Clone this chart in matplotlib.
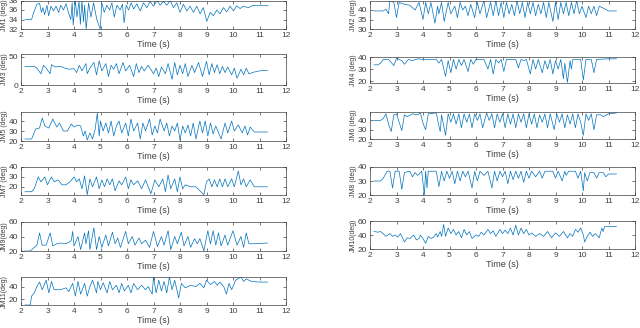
import numpy as np
import matplotlib
matplotlib.use('Agg')
import matplotlib.pyplot as plt

plt.rcParams['font.family'] = ['Liberation Sans', 'DejaVu Sans']

# joint angle traces (time s, angle deg) at peaks/troughs
t1 = [2.15, 2.4, 2.48, 2.6, 2.7, 2.77, 2.83, 2.89, 2.98, 3.04, 3.13, 3.23, 3.32, 3.42, 3.5, 3.6, 3.7, 3.8, 3.88,
      3.93, 3.97, 4.05, 4.11, 4.19, 4.24, 4.3, 4.36, 4.4, 4.46, 4.55, 4.64, 4.74, 4.86, 4.99, 5.05, 5.14, 5.24, 5.34,
      5.43, 5.52, 5.62, 5.74, 5.83, 5.89, 5.97, 6.06, 6.16, 6.25, 6.37, 6.5, 6.62, 6.75, 6.87, 7.0, 7.13, 7.25, 7.38,
      7.5, 7.63, 7.75, 7.88, 8.0, 8.13, 8.26, 8.38, 8.51, 8.63, 8.76, 8.88, 9.01, 9.14, 9.26, 9.39, 9.51, 9.64, 9.76,
      9.89, 10.02, 10.14, 10.27, 10.39, 10.58, 10.77, 11.02, 11.33]
v1 = [34.0, 34.0, 35.5, 37.2, 37.4, 35.5, 36.5, 35.0, 37.0, 34.8, 36.8, 35.8, 36.8, 35.5, 37.0, 36.0, 37.3, 35.3, 34.0,
      37.5, 32.8, 38.0, 34.5, 37.8, 33.0, 38.0, 33.5, 37.0, 32.0, 37.5, 34.5, 37.5, 34.0, 32.0, 37.5, 35.5, 37.0, 36.0,
      37.5, 34.5, 37.0, 36.0, 37.2, 33.3, 37.0, 36.0, 37.5, 36.2, 37.3, 35.8, 37.5, 36.5, 37.8, 36.8, 38.0, 37.0, 37.8,
      37.0, 38.0, 36.5, 37.5, 35.5, 37.2, 35.8, 36.8, 35.5, 36.8, 35.2, 36.5, 33.6, 35.5, 34.8, 36.0, 35.2, 36.5, 35.6,
      36.8, 35.8, 36.9, 36.3, 36.8, 36.5, 37.0, 36.9, 36.9]

t2 = [2.15, 2.5, 2.6, 2.7, 2.75, 2.9, 3.0, 3.1, 3.3, 3.5, 3.7, 3.85, 4.0, 4.1, 4.2, 4.3, 4.45, 4.55, 4.6, 4.7, 4.8,
      4.95, 5.05, 5.2, 5.3, 5.4, 5.5, 5.6, 5.7, 5.8, 5.95, 6.05, 6.15, 6.3, 6.4, 6.55, 6.65, 6.75, 6.85, 6.95, 7.05,
      7.15, 7.25, 7.35, 7.45, 7.55, 7.65, 7.75, 7.85, 7.95, 8.05, 8.15, 8.25, 8.35, 8.45, 8.55, 8.65, 8.75, 8.9, 9.0,
      9.1, 9.2, 9.3, 9.4, 9.5, 9.6, 9.7, 9.8, 9.9, 10.0, 10.15, 10.25, 10.35, 10.45, 10.55, 10.65, 10.8, 11.0, 11.3]
v2 = [39.5, 39.5, 40.5, 38.0, 45.0, 44.0, 36.0, 44.0, 43.0, 42.5, 40.0, 44.0, 35.0, 44.0, 38.0, 44.0, 33.0, 42.0, 38.0,
      44.0, 34.0, 44.0, 38.0, 42.0, 36.0, 44.0, 40.0, 42.0, 37.0, 43.0, 36.0, 44.0, 38.0, 45.0, 36.0, 44.0, 37.0, 45.0,
      37.0, 44.0, 36.0, 44.0, 38.0, 43.0, 37.0, 45.0, 38.0, 44.0, 36.0, 44.0, 38.0, 44.0, 37.0, 43.0, 38.0, 44.0, 36.0,
      44.0, 34.0, 44.0, 35.0, 44.0, 38.0, 44.0, 37.0, 44.0, 38.0, 45.0, 38.0, 42.0, 36.0, 42.0, 38.0, 42.0, 37.0, 42.0,
      41.0, 39.5, 39.5]

t3 = [2.15, 2.5, 2.6, 2.75, 2.85, 2.95, 3.1, 3.15, 3.3, 3.5, 3.65, 3.8, 4.0, 4.1, 4.2, 4.3, 4.45, 4.5, 4.6, 4.75, 4.85,
      4.95, 5.05, 5.2, 5.3, 5.4, 5.5, 5.6, 5.7, 5.85, 5.95, 6.1, 6.25, 6.35, 6.45, 6.55, 6.65, 6.8, 7.0, 7.1, 7.2, 7.3,
      7.45, 7.55, 7.7, 7.8, 7.9, 8.0, 8.1, 8.2, 8.3, 8.45, 8.55, 8.7, 8.85, 9.0, 9.1, 9.2, 9.3, 9.4, 9.5, 9.6, 9.7, 9.8,
      9.95, 10.05, 10.15, 10.3, 10.4, 10.5, 10.6, 10.8, 11.0, 11.3]
v3 = [33, 33, 30, 20, 35, 30, 20, 36, 32, 33, 30, 28, 29, 22, 35, 25, 38, 20, 30, 40, 18,
      43, 25, 38, 15, 35, 28, 38, 20, 40, 25, 35, 15, 38, 22, 33, 25, 35, 20, 30, 15, 32,
      20, 38, 10, 40, 18, 35, 20, 38, 15, 35, 22, 40, 15, 42, 18, 38, 22, 36, 20, 33, 22, 32,
      18, 30, 12, 28, 18, 30, 20, 23, 25, 26]

t4 = [2.15, 2.3, 2.4, 2.5, 2.7, 2.9, 3.0, 3.2, 3.3, 3.45, 3.6, 3.8, 4.0, 4.5, 4.6, 4.7, 4.85, 4.95, 5.05, 5.15, 5.25,
      5.35, 5.45, 5.55, 5.7, 5.8, 5.9, 6.0, 6.3, 6.45, 6.55, 6.65, 6.75, 6.85, 6.95, 7.05, 7.15, 7.5, 7.6, 7.7, 7.8,
      7.9, 8.05, 8.15, 8.25, 8.35, 8.5, 8.6, 8.7, 8.8, 8.9, 9.0, 9.1, 9.2, 9.3, 9.35, 9.45, 9.55, 9.6, 9.65, 9.95,
      10.05, 10.15, 10.35, 10.45, 10.55, 11.0, 11.3]
v4 = [33.5, 33.5, 35, 38, 38, 33, 39, 37, 34, 38, 37, 38.5, 38, 38, 35, 38, 24, 37, 27, 38, 30,
      38, 33, 38, 28, 38, 34, 38, 38, 30, 38, 26, 38, 35, 38, 28, 38, 38, 31, 38, 37,
      38, 26, 38, 30, 38, 27, 37, 30, 38, 26, 37, 30, 38, 22, 35, 19, 37, 30, 38, 38,
      21, 38, 38, 27, 38, 38.5, 38.5]

t5 = [2.15, 2.4, 2.45, 2.55, 2.7, 2.8, 2.9, 3.05, 3.2, 3.35, 3.45, 3.6, 3.75, 3.9, 4.0, 4.15, 4.25, 4.35, 4.42, 4.5,
      4.6, 4.7, 4.8, 4.88, 4.95, 5.0, 5.1, 5.2, 5.3, 5.4, 5.5, 5.6, 5.7, 5.8, 5.95, 6.05, 6.15, 6.25, 6.4, 6.5, 6.6,
      6.7, 6.85, 6.95, 7.05, 7.15, 7.25, 7.4, 7.5, 7.6, 7.7, 7.8, 7.9, 8.0, 8.1, 8.2, 8.3, 8.4, 8.5, 8.6, 8.75, 8.85,
      8.95, 9.05, 9.15, 9.25, 9.35, 9.55, 9.7, 9.8, 9.95, 10.05, 10.2, 10.35, 10.45, 10.55, 10.65, 10.8, 11.3]
v5 = [22, 22, 25, 32, 33, 43, 35, 33, 42, 34, 38, 30, 30, 37, 34, 36, 35, 25, 30, 21,
      28, 22, 32, 48, 25, 40, 30, 38, 28, 40, 25, 35, 40, 28, 38, 25, 42, 30, 38, 22, 38,
      30, 42, 26, 35, 28, 42, 30, 38, 25, 35, 30, 38, 21, 35, 28, 36, 25, 38, 22, 40, 28,
      40, 25, 38, 27, 35, 22, 38, 28, 40, 30, 36, 28, 35, 26, 34, 29, 29]

t6 = [2.15, 2.4, 2.5, 2.6, 2.7, 2.8, 2.9, 3.0, 3.1, 3.2, 3.3, 3.4, 3.6, 3.8, 3.9, 4.0, 4.1, 4.2, 4.5, 4.6, 4.65, 4.7,
      4.85, 4.95, 5.05, 5.15, 5.25, 5.35, 5.45, 5.55, 5.65, 5.75, 5.85, 5.95, 6.05, 6.15, 6.25, 6.4, 6.5, 6.6, 6.7,
      6.8, 6.9, 7.0, 7.1, 7.2, 7.3, 7.4, 7.5, 7.6, 7.7, 7.8, 7.9, 8.0, 8.1, 8.2, 8.3, 8.4, 8.5, 8.6, 8.7, 8.8, 8.95,
      9.05, 9.15, 9.25, 9.35, 9.45, 9.55, 9.65, 9.75, 9.85, 9.95, 10.05, 10.15, 10.25, 10.35, 10.45, 10.55, 10.7,
      10.8, 11.0, 11.3]
v6 = [40, 40, 42, 47, 36, 28, 46, 47, 38, 29, 46, 44, 47, 46, 48, 37, 30, 47, 48, 34, 28, 46,
      24, 47, 38, 47, 36, 47, 32, 47, 38, 47, 32, 47, 40, 47, 32, 48, 40, 47, 32,
      47, 38, 47, 32, 47, 36, 47, 32, 47, 38, 47, 32, 47, 36, 47, 32, 46, 38, 47, 32, 47, 30,
      47, 38, 47, 32, 46, 36, 47, 32, 47, 38, 24, 47, 40, 47, 30, 46, 46,
      44, 47, 48]

t7 = [2.15, 2.4, 2.5, 2.65, 2.75, 2.9, 3.0, 3.15, 3.25, 3.4, 3.55, 3.7, 3.85, 4.0, 4.1, 4.2, 4.3, 4.4, 4.5, 4.6, 4.7,
      4.85, 4.95, 5.05, 5.15, 5.25, 5.35, 5.45, 5.55, 5.7, 5.8, 5.95, 6.05, 6.15, 6.25, 6.4, 6.55, 6.7, 6.9, 7.0, 7.05,
      7.2, 7.35, 7.45, 7.55, 7.65, 7.8, 7.9, 8.0, 8.1, 8.2, 8.4, 8.6, 8.9, 9.0, 9.1, 9.2, 9.3, 9.4, 9.5, 9.6, 9.7, 9.8,
      9.95, 10.05, 10.2, 10.3, 10.4, 10.5, 10.65, 10.8, 11.3]
v7 = [15, 15, 18, 30, 25, 30, 22, 30, 25, 27, 22, 22, 25, 30, 25, 28, 18, 31, 12, 28, 20,
      30, 18, 27, 20, 28, 22, 28, 16, 26, 22, 30, 18, 27, 22, 26, 18, 27, 13, 22, 27,
      20, 28, 15, 32, 18, 28, 15, 30, 18, 22, 20, 20, 12, 25, 28, 20, 27, 20, 28, 20, 28, 20,
      28, 20, 36, 22, 28, 20, 27, 20, 20]

t8 = [2.15, 2.4, 2.5, 2.65, 2.75, 2.85, 2.95, 3.1, 3.2, 3.3, 3.5, 3.6, 3.7, 3.8, 3.95, 4.05, 4.1, 4.15, 4.2, 4.5,
      4.6, 4.7, 4.8, 4.9, 5.0, 5.1, 5.2, 5.3, 5.4, 5.5, 5.6, 5.7, 5.85, 5.95, 6.05, 6.15, 6.3, 6.45, 6.6, 6.7, 6.8,
      6.9, 7.0, 7.1, 7.2, 7.3, 7.4, 7.5, 7.6, 7.7, 7.8, 7.9, 8.0, 8.1, 8.25, 8.4, 8.5, 8.6, 8.9, 9.0, 9.1, 9.25, 9.35,
      9.4, 9.5, 9.75, 9.85, 9.95, 10.05, 10.1, 10.2, 10.3, 10.45, 10.55, 10.65, 10.8, 10.9, 11.0, 11.3]
v8 = [30, 30, 32, 37, 37, 25, 37, 37, 24, 36, 37, 33, 36, 34, 37, 20, 37, 25, 37, 37,
      26, 37, 30, 37, 32, 37, 28, 37, 30, 37, 33, 37, 25, 37, 30, 37, 34, 37, 25, 37, 30,
      37, 33, 37, 28, 37, 31, 37, 32, 37, 29, 37, 32, 37, 33, 37, 32, 37, 37, 32, 37, 30, 37,
      34, 37, 37, 32, 37, 23, 36, 30, 36, 36, 32, 36, 36, 33, 35, 35]

t9 = [2.15, 2.35, 2.5, 2.6, 2.7, 2.8, 2.95, 3.1, 3.2, 3.35, 3.5, 3.7, 3.85, 3.9, 3.95, 4.0, 4.15, 4.25, 4.4, 4.45,
      4.55, 4.6, 4.75, 4.85, 4.95, 5.05, 5.2, 5.3, 5.45, 5.55, 5.65, 5.75, 5.95, 6.05, 6.2, 6.3, 6.45, 6.55, 6.7, 6.85,
      7.0, 7.15, 7.3, 7.4, 7.55, 7.65, 7.8, 7.9, 8.05, 8.15, 8.3, 8.4, 8.55, 8.65, 8.75, 8.9, 9.05, 9.15, 9.25, 9.35,
      9.45, 9.55, 9.7, 9.8, 10.0, 10.15, 10.3, 10.4, 10.5, 10.6, 10.8, 11.3]
v9 = [20, 20, 25, 28, 45, 28, 28, 45, 27, 30, 31, 30, 33, 35, 47, 27, 40, 22, 45, 30,
      48, 22, 52, 22, 40, 25, 42, 27, 46, 30, 38, 25, 47, 30, 40, 28, 38, 30, 35, 25,
      47, 26, 40, 28, 48, 22, 40, 30, 46, 27, 40, 25, 37, 30, 37, 20, 48, 30, 48, 28,
      45, 27, 42, 28, 48, 28, 40, 25, 45, 30, 30, 31]

t10 = [2.15, 2.3, 2.4, 2.55, 2.6, 2.75, 2.85, 2.95, 3.05, 3.15, 3.3, 3.4, 3.5, 3.65, 3.75, 3.85, 3.9, 4.0, 4.1, 4.2,
       4.3, 4.4, 4.5, 4.55, 4.65, 4.7, 4.78, 4.85, 4.95, 5.05, 5.15, 5.25, 5.35, 5.45, 5.55, 5.65, 5.75, 5.85, 6.0,
       6.1, 6.2, 6.3, 6.45, 6.55, 6.65, 6.75, 6.9, 7.0, 7.1, 7.2, 7.3, 7.4, 7.5, 7.6, 7.7, 7.8, 7.9, 8.0, 8.1, 8.25,
       8.4, 8.55, 8.7, 8.85, 9.0, 9.15, 9.3, 9.45, 9.55, 9.65, 9.75, 9.85, 9.95, 10.05, 10.1, 10.2, 10.3, 10.4, 10.5,
       10.65, 10.75, 10.8, 10.85, 11.3]
v10 = [45, 44, 45, 40, 38, 42, 38, 40, 37, 42, 30, 36, 35, 40, 33, 35, 40, 35, 28, 38,
       35, 37, 42, 37, 45, 38, 55, 38, 50, 42, 48, 40, 45, 36, 48, 40, 45, 35, 40,
       38, 44, 40, 48, 42, 46, 38, 48, 42, 47, 42, 50, 40, 54, 40, 50, 42, 48, 40, 43, 38,
       42, 38, 45, 36, 43, 38, 45, 36, 42, 38, 48, 44, 50, 40, 30, 38, 44, 38, 42,
       36, 50, 45, 52, 52]

t11 = [2.15, 2.35, 2.4, 2.5, 2.6, 2.7, 2.8, 2.95, 3.05, 3.15, 3.25, 3.5, 3.7, 3.8, 3.95, 4.05, 4.15, 4.25, 4.4, 4.5,
       4.6, 4.7, 4.85, 4.9, 5.0, 5.1, 5.25, 5.35, 5.45, 5.6, 5.7, 5.8, 5.9, 6.05, 6.15, 6.25, 6.4, 6.55, 6.7, 6.8,
       6.95, 7.0, 7.1, 7.2, 7.3, 7.4, 7.5, 7.6, 7.7, 7.8, 7.95, 8.05, 8.2, 8.4, 8.6, 8.75, 8.9, 9.0, 9.15, 9.3, 9.4,
       9.5, 9.65, 9.75, 9.85, 9.95, 10.1, 10.3, 10.4, 10.5, 10.7, 11.0, 11.3]
v11 = [11, 11, 25, 30, 40, 47, 35, 50, 30, 48, 35, 35, 38, 32, 45, 25, 48, 28, 45, 25,
       40, 50, 30, 48, 35, 46, 30, 48, 35, 42, 30, 45, 33, 42, 30, 45, 35, 42, 35, 40,
       28, 55, 30, 50, 33, 48, 30, 55, 35, 50, 22, 45, 38, 42, 40, 45, 38, 50, 43, 48, 42,
       47, 40, 28, 45, 35, 50, 55, 48, 52, 48, 47, 47]

series = [("JM1 (deg)", t1, v1, (32, 38), [32, 34, 36, 38]),
          ("JM2 (deg)", t2, v2, (30, 45), [30, 35, 40]),
          ("JM3 (deg)", t3, v3, (0, 55), [0, 50]),
          ("JM4 (deg)", t4, v4, (18.5, 40), [20, 30, 40]),
          ("JM5 (deg)", t5, v5, (20, 49), [20, 30, 40]),
          ("JM6 (deg)", t6, v6, (20, 49), [20, 30, 40]),
          ("JM7 (deg)", t7, v7, (11.7, 40), [20, 30, 40]),
          ("JM8 (deg)", t8, v8, (20, 40), [20, 30, 40]),
          ("JM9(deg)", t9, v9, (20, 60), [20, 40, 60]),
          ("JM10(deg)", t10, v10, (20, 60), [20, 40, 60]),
          ("JM11(deg)", t11, v11, (11, 55), [20, 40])]

# axes boxes in pixels: (top, bottom)
left_rows = [(0.5, 29), (54, 85), (112, 141), (167, 195), (222, 251), (277, 305)]
right_rows = [(0.5, 29), (57, 83), (112, 139), (167, 195), (221, 249)]

W, H = 640, 328
fig = plt.figure(figsize=(6.4, 3.28), dpi=100)
edge = '#404040'
txt = '#404040'
lc = '#0072BD'

for i, (lab, t, v, yl, yt) in enumerate(series):
    col = i % 2
    row = i // 2
    top, bot = (left_rows if col == 0 else right_rows)[row]
    x0 = 21 if col == 0 else 370
    ax = fig.add_axes([x0 / W, 1 - bot / H, 265 / W, (bot - top) / H])
    ax.plot(t, v, color=lc, lw=0.5)
    ax.set_xlim(2, 12)
    ax.set_ylim(*yl)
    ax.set_xticks(range(2, 13))
    ax.set_yticks(yt)
    ax.tick_params(direction='in', length=2, width=0.5, labelsize=6, colors=txt,
                   top=True, right=True, pad=2)
    for s in ax.spines.values():
        s.set_linewidth(0.5)
        s.set_color(edge)
    ax.set_xlabel('Time (s)', fontsize=6.5, color=txt, labelpad=1)
    ax.set_ylabel(lab, fontsize=5, color=txt)
    ax.yaxis.set_label_coords(-0.05, 0.5)

fig.savefig('out.png', dpi=100)
